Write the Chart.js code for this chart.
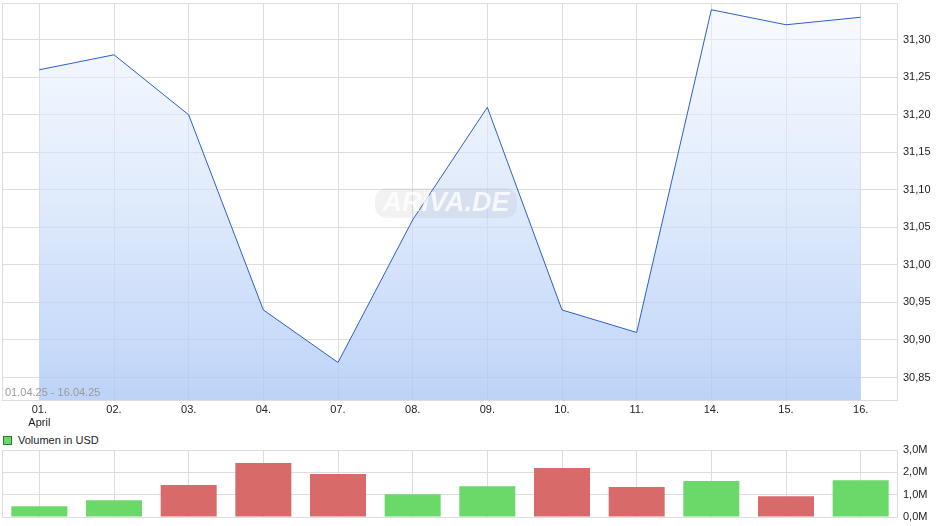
<!DOCTYPE html>
<html>
<head>
<meta charset="utf-8">
<script src="https://cdn.jsdelivr.net/npm/chart.js@4/dist/chart.umd.min.js"></script>
<style>
body{margin:0;background:#fff;font-family:"Liberation Sans",Arial,sans-serif;}
#wrap{position:relative;width:940px;height:526px;overflow:hidden;}
#top{position:absolute;left:0;top:0;}
#bottom{position:absolute;left:0;top:430px;}
#legend{position:absolute;left:3px;top:434px;font-size:11px;color:#222;line-height:12px;}
#legend span{display:inline-block;width:7px;height:7px;background:#6ad96a;border:1px solid #2d7d2d;margin-right:6px;vertical-align:-1px;}
</style>
</head>
<body>
<div id="wrap">
<canvas id="top" width="940" height="430"></canvas>
<div id="legend"><span></span>Volumen in USD</div>
<canvas id="bottom" width="940" height="96"></canvas>
</div>
<script>
const days=["01.","02.","03.","04.","07.","08.","09.","10.","11.","14.","15.","16."];
const monthName="April";
const prices=[31.26,31.28,31.20,30.94,30.87,31.06,31.21,30.94,30.91,31.34,31.32,31.33];
const volumes=[0.48,0.75,1.43,2.42,1.92,1.02,1.38,2.19,1.34,1.61,0.93,1.65]; // Mio USD
const rangeText="01.04.25 - 16.04.25";

const gridCol="#dddddd";
const font={family:'"Liberation Sans", Arial, sans-serif',size:11};

/* frame + text overlays */
const frame={
id:"frame",
afterDatasetsDraw(chart,args,opts){
const a=chart.chartArea,ctx=chart.ctx;
ctx.save();
ctx.strokeStyle=gridCol;ctx.lineWidth=1;
ctx.strokeRect(a.left+0.5,a.top+0.5,a.right-a.left-1,a.bottom-a.top);
if(opts.range){
ctx.font='11px "Liberation Sans", Arial, sans-serif';
ctx.fillStyle="#9a9a9a";ctx.textBaseline="alphabetic";
ctx.fillText(opts.range,a.left+3,a.bottom-4);
}
if(opts.mark){
let cx=446,cy=203,w=142,h=30,r=12,x=cx-w/2,y=cy-h/2;
ctx.fillStyle="rgba(150,150,150,0.12)";
ctx.beginPath();ctx.roundRect(x,y,w,h,r);ctx.fill();
ctx.font='italic bold 27px "Liberation Sans", Arial, sans-serif';
ctx.fillStyle="rgba(255,255,255,0.75)";
ctx.textAlign="center";ctx.textBaseline="middle";
ctx.fillText(opts.mark,cx,cy+1);
}
ctx.restore();
}
};

const topLabels=days.map((d,i)=>i==0?[d,monthName]:d);

new Chart(document.getElementById("top"),{
type:"line",
data:{
labels:topLabels,
datasets:[{
data:prices,
borderColor:"#2b5fc9",
borderWidth:1,
pointRadius:0,
tension:0,
fill:"start",
backgroundColor(c){
const a=c.chart.chartArea;
if(!a)return "rgba(200,215,245,0.6)";
const g=c.chart.ctx.createLinearGradient(0,a.top,0,a.bottom);
g.addColorStop(0,"rgba(240,246,255,0.5)");
g.addColorStop(1,"rgba(172,200,245,0.8)");
return g;
}
}]
},
options:{
responsive:false,animation:false,
layout:{padding:{left:2,top:3,right:0,bottom:0}},
plugins:{legend:{display:false},tooltip:{enabled:false},
frame:{range:rangeText,mark:"ARIVA.DE"}},
scales:{
x:{offset:true,
grid:{color:gridCol,offset:false,drawTicks:false},
border:{display:false},
ticks:{color:"#222",font:font,padding:3,maxRotation:0,autoSkip:false},
afterFit(s){s.height=30;s.paddingLeft=0;s.paddingRight=0;}
},
y:{position:"right",min:30.82,max:31.349,
grid:{color:gridCol,drawTicks:false},
border:{display:false},
ticks:{stepSize:0.05,includeBounds:false,color:"#222",font:font,padding:5,
callback:v=>v.toFixed(2).replace(".",",")},
afterFit(s){s.width=42;s.paddingTop=0;s.paddingBottom=0;}
}
}
},
plugins:[frame]
});

const barCols=prices.map((p,i)=>(i>0&&p<prices[i-1])?"#d96a6a":"#6ad96a");

new Chart(document.getElementById("bottom"),{
type:"bar",
data:{
labels:days,
datasets:[{
data:volumes.map(v=>v*1e6),
backgroundColor:barCols,
categoryPercentage:0.75,
barPercentage:1
}]
},
options:{
responsive:false,animation:false,
layout:{padding:{left:2,top:20,right:0,bottom:9}},
plugins:{legend:{display:false},tooltip:{enabled:false},frame:{}},
scales:{
x:{offset:true,
grid:{color:gridCol,offset:false,drawTicks:false},
border:{display:false},
ticks:{display:false},
afterFit(s){s.height=0;}
},
y:{position:"right",min:0,max:3e6,
grid:{color:gridCol,drawTicks:false},
border:{display:false},
ticks:{stepSize:1e6,color:"#222",font:font,padding:5,
callback:v=>(v/1e6).toFixed(1).replace(".",",")+"M"},
afterFit(s){s.width=42;s.paddingTop=0;s.paddingBottom=0;}
}
}
},
plugins:[frame]
});
</script>
</body>
</html>
